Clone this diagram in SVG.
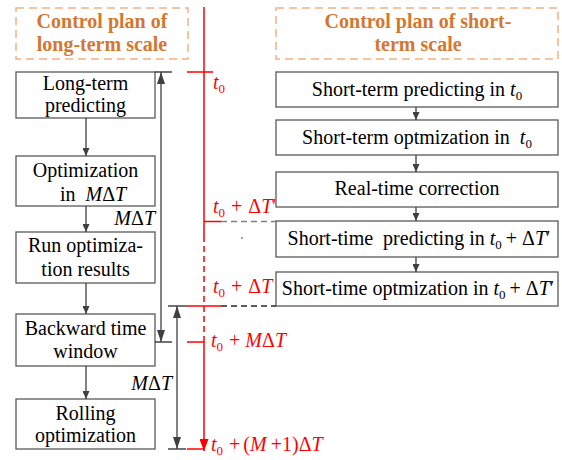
<svg xmlns="http://www.w3.org/2000/svg" width="562" height="460" viewBox="0 0 562 460" font-family="Liberation Serif, DejaVu Serif, serif">
<style>
text{font-size:20px;fill:#000}
.c{text-anchor:middle}
.hd{font-weight:bold;fill:#D4772F;text-anchor:middle}
.hb{fill:none;stroke:#F4B183;stroke-width:1.5;stroke-dasharray:8 5}
.bx{fill:#fff;stroke:#595959;stroke-width:1.3}
.ar{stroke:#404040;stroke-width:1.3;fill:none;marker-end:url(#ah)}
.dm{stroke:#404040;stroke-width:1.3;fill:none;marker-start:url(#dh);marker-end:url(#dh)}
.tk{stroke:#262626;stroke-width:1.3}
.rd{stroke:#FF0000;stroke-width:1.5;fill:none}
.rl{fill:#FF0000}
.i{font-style:italic}
.sb{font-size:13px}
</style>
<defs>
<marker id="ah" viewBox="0 0 8 7" refX="8" refY="3.5" markerWidth="8" markerHeight="7" markerUnits="userSpaceOnUse" orient="auto"><path d="M0,0 L8,3.5 L0,7 z" fill="#404040"/></marker>
<marker id="dh" viewBox="0 0 12 8" refX="12" refY="4" markerWidth="12" markerHeight="8" markerUnits="userSpaceOnUse" orient="auto-start-reverse"><path d="M0,0 L12,4 L0,8 z" fill="#404040"/></marker>
<marker id="rh" viewBox="0 0 12 9" refX="12" refY="4.5" markerWidth="12" markerHeight="9" markerUnits="userSpaceOnUse" orient="auto"><path d="M0,0 L12,4.5 L0,9 z" fill="#FF0000"/></marker>
</defs>

<g id="header-long">
<rect class="hb" x="16" y="8" width="172" height="51"/>
<text class="hd" x="102" y="28">Control plan of</text>
<text class="hd" x="102" y="51">long-term scale</text>
</g>
<g id="header-short">
<rect class="hb" x="276" y="8" width="282" height="51"/>
<text class="hd" x="418" y="28">Control plan of short-</text>
<text class="hd" x="418" y="51">term scale</text>
</g>

<g id="long-predicting">
<rect class="bx" x="16" y="72" width="139" height="46"/>
<text class="c" x="85.5" y="90">Long-term</text>
<text class="c" x="85.5" y="112">predicting</text>
</g>
<g id="optimization-mdt">
<rect class="bx" x="16" y="156" width="139" height="50"/>
<text class="c" x="85.5" y="177">Optimization</text>
<text x="60" y="201">in&#160; <tspan class="i">M</tspan>Δ<tspan class="i">T</tspan></text>
</g>
<g id="run-results">
<rect class="bx" x="16" y="232" width="139" height="51"/>
<text class="c" x="85.5" y="252">Run optimiza-</text>
<text class="c" x="85.5" y="276">tion results</text>
</g>
<g id="backward-window">
<rect class="bx" x="16" y="314" width="139" height="52"/>
<text class="c" x="85.5" y="335">Backward time</text>
<text class="c" x="85.5" y="358">window</text>
</g>
<g id="rolling-optimization">
<rect class="bx" x="16" y="399" width="139" height="50"/>
<text class="c" x="85.5" y="420">Rolling</text>
<text class="c" x="85.5" y="442">optimization</text>
</g>

<g id="short-predicting-t0">
<rect class="bx" x="276" y="72" width="282" height="35"/>
<text class="c" x="417" y="96">Short-term predicting in <tspan class="i">t</tspan><tspan class="sb" dy="4">0</tspan></text>
</g>
<g id="short-optimization-t0">
<rect class="bx" x="276" y="120" width="282" height="35"/>
<text class="c" x="417" y="144">Short-term optmization in&#160; <tspan class="i">t</tspan><tspan class="sb" dy="4">0</tspan></text>
</g>
<g id="real-time-correction">
<rect class="bx" x="276" y="172" width="282" height="35"/>
<text class="c" x="417" y="195">Real-time correction</text>
</g>
<g id="short-predicting-dt">
<rect class="bx" x="276" y="221" width="282" height="36"/>
<text class="c" x="419" y="245">Short-time&#160; predicting in <tspan class="i">t</tspan><tspan class="sb" dy="4">0</tspan><tspan dy="-4" dx="4">+ Δ</tspan><tspan class="i">T</tspan>′</text>
</g>
<g id="short-optimization-dt">
<rect class="bx" x="276" y="272" width="282" height="34"/>
<text class="c" x="418" y="295">Short-time optmization in <tspan class="i">t</tspan><tspan class="sb" dy="4">0</tspan><tspan dy="-4" dx="4">+ Δ</tspan><tspan class="i">T</tspan>′</text>
</g>

<g id="connectors">
<line class="ar" x1="86" y1="118" x2="86" y2="156"/>
<line class="ar" x1="86" y1="206" x2="86" y2="232"/>
<line class="ar" x1="86" y1="283" x2="86" y2="314"/>
<line class="ar" x1="86" y1="366" x2="86" y2="399"/>
<line class="ar" x1="416" y1="107" x2="416" y2="120"/>
<line class="ar" x1="416" y1="155" x2="416" y2="172"/>
<line class="ar" x1="416" y1="207" x2="416" y2="221"/>
<line class="ar" x1="416" y1="257" x2="416" y2="272"/>
</g>

<g id="dimensions">
<line class="tk" x1="155" y1="72" x2="172" y2="72"/>
<line class="tk" x1="155" y1="342" x2="172" y2="342"/>
<line class="dm" x1="161" y1="72" x2="161" y2="342"/>
<text class="i" x="155" y="225" text-anchor="end">M<tspan font-style="normal">Δ</tspan>T</text>
<line class="tk" x1="168" y1="306" x2="187" y2="306"/>
<line class="tk" x1="168" y1="449" x2="186" y2="449"/>
<line class="dm" x1="177" y1="306" x2="177" y2="449"/>
<text class="i" x="172" y="390" text-anchor="end">M<tspan font-style="normal">Δ</tspan>T</text>
</g>

<g id="timeline">
<line class="rd" x1="204" y1="7" x2="204" y2="236"/>
<line class="rd" x1="204" y1="236" x2="204" y2="340" stroke-width="2.5" stroke-dasharray="6 4"/>
<line class="rd" x1="204" y1="340" x2="204" y2="451" marker-end="url(#rh)"/>
<line class="rd" x1="187" y1="72" x2="213" y2="72"/>
<line class="rd" x1="204" y1="221.5" x2="221" y2="221.5"/>
<line x1="221" y1="221.5" x2="276" y2="221.5" stroke="#808080" stroke-width="1.3" stroke-dasharray="6 4"/>
<line class="rd" x1="187" y1="306" x2="221" y2="306"/>
<line x1="221" y1="306" x2="276" y2="306" stroke="#262626" stroke-width="1.3" stroke-dasharray="6 4"/>
<line class="rd" x1="187" y1="342" x2="204" y2="342"/>
<line class="rd" x1="187" y1="449" x2="204" y2="449"/>
<circle cx="242" cy="238" r="0.8" fill="#333"/>
<text class="rl" x="213" y="89"><tspan class="i">t</tspan><tspan class="sb" dy="4">0</tspan></text>
<text class="rl" x="213" y="213"><tspan class="i">t</tspan><tspan class="sb" dy="4">0</tspan><tspan dy="-4" dx="6">+</tspan><tspan dx="6">Δ</tspan><tspan class="i">T</tspan>′</text>
<text class="rl" x="213" y="293"><tspan class="i">t</tspan><tspan class="sb" dy="4">0</tspan><tspan dy="-4" dx="6">+</tspan><tspan dx="6">Δ</tspan><tspan class="i">T</tspan></text>
<text class="rl" x="211" y="347"><tspan class="i">t</tspan><tspan class="sb" dy="4">0</tspan><tspan dy="-4" dx="6">+</tspan><tspan class="i" dx="5">M</tspan>Δ<tspan class="i">T</tspan></text>
<text class="rl" x="211" y="451"><tspan class="i">t</tspan><tspan class="sb" dy="4">0</tspan><tspan dy="-4" dx="6">+</tspan><tspan dx="3">(</tspan><tspan class="i">M</tspan><tspan dx="4">+1)Δ</tspan><tspan class="i">T</tspan></text>
</g>
</svg>
